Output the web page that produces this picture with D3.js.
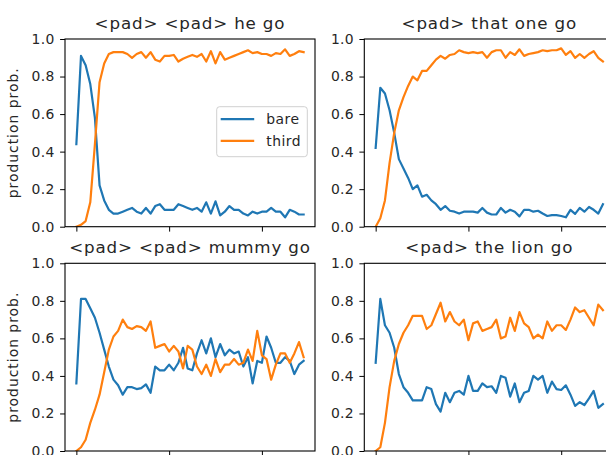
<!DOCTYPE html>
<html>
<head>
<meta charset="utf-8">
<script src="https://cdn.jsdelivr.net/npm/d3@7"></script>
<style>
  body { margin: 0; background: #fff; }
  text { font-family: "DejaVu Sans", sans-serif; fill: #262626; }
</style>
</head>
<body>
<div id="chart"></div>
<script>
// panel titles
var titles = ["<pad> <pad> he go", "<pad> that one go", "<pad> <pad> mummy go", "<pad> the lion go"];
var seriesNames = ["bare", "third"];
var yTicks = [0, 0.2, 0.4, 0.6, 0.8, 1.0];
var xTicks = [0, 20, 40];

// production probabilities, 50 checkpoints per panel
var heGoBare = [0.44, 0.91, 0.86, 0.76, 0.58, 0.22, 0.14, 0.09, 0.07, 0.07,
  0.08, 0.09, 0.10, 0.08, 0.07, 0.10, 0.07, 0.11, 0.12, 0.09,
  0.09, 0.09, 0.12, 0.11, 0.10, 0.09, 0.10, 0.08, 0.13, 0.07,
  0.135, 0.06, 0.08, 0.11, 0.09, 0.09, 0.07, 0.06, 0.08, 0.07,
  0.08, 0.08, 0.10, 0.08, 0.08, 0.05, 0.09, 0.08, 0.065, 0.065];
var heGoThird = [0.00, 0.01, 0.03, 0.13, 0.44, 0.77, 0.87, 0.92, 0.93, 0.93,
  0.93, 0.92, 0.90, 0.92, 0.93, 0.90, 0.93, 0.89, 0.88, 0.91,
  0.91, 0.915, 0.88, 0.895, 0.905, 0.915, 0.905, 0.92, 0.88, 0.935,
  0.87, 0.93, 0.89, 0.90, 0.91, 0.92, 0.93, 0.94, 0.925, 0.93,
  0.92, 0.92, 0.91, 0.925, 0.92, 0.945, 0.91, 0.92, 0.935, 0.93];
var thatOneBare = [0.42, 0.74, 0.71, 0.62, 0.50, 0.36, 0.31, 0.26, 0.20, 0.22,
  0.16, 0.17, 0.14, 0.12, 0.09, 0.11, 0.085, 0.08, 0.07, 0.08,
  0.08, 0.08, 0.075, 0.10, 0.075, 0.065, 0.065, 0.10, 0.075, 0.09,
  0.08, 0.055, 0.09, 0.09, 0.08, 0.085, 0.07, 0.057, 0.062, 0.062,
  0.057, 0.05, 0.09, 0.068, 0.10, 0.08, 0.105, 0.09, 0.07, 0.12];
var thatOneThird = [0.00, 0.045, 0.14, 0.34, 0.50, 0.62, 0.69, 0.75, 0.80, 0.78,
  0.83, 0.83, 0.86, 0.89, 0.91, 0.895, 0.915, 0.92, 0.94, 0.93,
  0.925, 0.93, 0.925, 0.93, 0.90, 0.93, 0.94, 0.94, 0.90, 0.93,
  0.915, 0.945, 0.91, 0.92, 0.925, 0.93, 0.94, 0.935, 0.94, 0.94,
  0.95, 0.915, 0.935, 0.90, 0.92, 0.90, 0.92, 0.935, 0.90, 0.88];
var mummyBare = [0.36, 0.81, 0.81, 0.76, 0.71, 0.63, 0.54, 0.45, 0.38, 0.35,
  0.30, 0.34, 0.34, 0.33, 0.335, 0.355, 0.31, 0.45, 0.43, 0.43,
  0.46, 0.43, 0.47, 0.55, 0.44, 0.43, 0.52, 0.59, 0.52, 0.60,
  0.50, 0.57, 0.51, 0.54, 0.52, 0.53, 0.45, 0.50, 0.36, 0.48,
  0.47, 0.61, 0.55, 0.47, 0.47, 0.50, 0.48, 0.41, 0.46, 0.48];
var mummyThird = [0.00, 0.02, 0.06, 0.15, 0.22, 0.30, 0.42, 0.54, 0.61, 0.64,
  0.70, 0.66, 0.65, 0.665, 0.66, 0.64, 0.69, 0.55, 0.56, 0.57,
  0.53, 0.56, 0.53, 0.44, 0.56, 0.54, 0.45, 0.41, 0.46, 0.40,
  0.49, 0.42, 0.46, 0.46, 0.49, 0.46, 0.47, 0.54, 0.48, 0.64,
  0.51, 0.49, 0.38, 0.46, 0.52, 0.52, 0.47, 0.52, 0.58, 0.50];
var lionBare = [0.47, 0.81, 0.67, 0.63, 0.55, 0.41, 0.34, 0.31, 0.27, 0.27,
  0.27, 0.34, 0.33, 0.25, 0.21, 0.31, 0.26, 0.31, 0.32, 0.30,
  0.40, 0.32, 0.32, 0.36, 0.34, 0.345, 0.31, 0.40, 0.39, 0.29,
  0.36, 0.26, 0.31, 0.32, 0.40, 0.38, 0.40, 0.31, 0.37, 0.33,
  0.325, 0.35, 0.30, 0.24, 0.26, 0.245, 0.28, 0.32, 0.23, 0.25];
var lionThird = [0.00, 0.02, 0.15, 0.34, 0.48, 0.57, 0.63, 0.67, 0.72, 0.72,
  0.72, 0.65, 0.67, 0.73, 0.79, 0.69, 0.74, 0.69, 0.67, 0.70,
  0.59, 0.68, 0.69, 0.64, 0.65, 0.66, 0.70, 0.60, 0.61, 0.71,
  0.64, 0.74, 0.68, 0.66, 0.60, 0.62, 0.60, 0.69, 0.64, 0.67,
  0.67, 0.645, 0.70, 0.765, 0.74, 0.75, 0.71, 0.67, 0.78, 0.75];

var panelBare = [heGoBare, thatOneBare, mummyBare, lionBare];
var panelThird = [heGoThird, thatOneThird, mummyThird, lionThird];

var width = 606,
    height = 455,
    axW = 250,
    axH = 187.7,
    colors = ["#1f77b4", "#ff7f0e"];

var origins = [[65, 39], [364.3, 39], [65, 263.3], [364.3, 263.3]];

var svg = d3.select("#chart")
    .append("svg")
    .attr("width", width)
    .attr("height", height)
    .style("display", "block");

svg.append("rect").attr("width", width).attr("height", height).attr("fill", "#fff");

var n = heGoBare.length;
var pad = (n - 1) * 0.05;

var x = d3.scaleLinear().domain([-pad, n - 1 + pad]).range([0, axW]);
var y = d3.scaleLinear().domain([0, 1]).range([axH, 0]);

var line = d3.line()
    .x(function(d, i) { return x(i); })
    .y(function(d) { return y(d); });

titles.forEach(function(title, p) {
    var g = svg.append("g")
        .attr("transform", "translate(" + origins[p][0] + "," + origins[p][1] + ")");

    g.append("defs").append("clipPath")
        .attr("id", "clip" + p)
        .append("rect").attr("width", axW).attr("height", axH);

    /* lines */
    [panelBare[p], panelThird[p]].forEach(function(vals, s) {
        g.append("path")
            .datum(vals)
            .attr("clip-path", "url(#clip" + p + ")")
            .attr("fill", "none")
            .attr("stroke", colors[s])
            .attr("stroke-width", 2.2)
            .attr("stroke-linejoin", "round")
            .attr("stroke-linecap", "square")
            .attr("d", line);
    });

    /* axes */
    var yAxis = g.append("g")
        .call(d3.axisLeft(y).tickValues(yTicks).tickFormat(d3.format(".1f")).tickSize(4.9).tickPadding(5.5));
    yAxis.select(".domain").remove();
    yAxis.selectAll("line").attr("stroke", "#000").attr("stroke-width", 1);
    yAxis.selectAll("text")
        .attr("font-size", "13.9px")
        .attr("font-family", "DejaVu Sans")
        .attr("fill", "#262626")
        .attr("letter-spacing", "0.3px");

    var xAxis = g.append("g")
        .attr("transform", "translate(0," + axH + ")")
        .call(d3.axisBottom(x).tickValues(xTicks).tickFormat("").tickSize(4.9));
    xAxis.select(".domain").remove();
    xAxis.selectAll("line").attr("stroke", "#000").attr("stroke-width", 1);

    g.append("rect")
        .attr("width", axW)
        .attr("height", axH)
        .attr("fill", "none")
        .attr("stroke", "#000")
        .attr("stroke-width", 1.1);

    g.append("text")
        .attr("x", axW / 2)
        .attr("y", -10)
        .attr("text-anchor", "middle")
        .attr("font-size", "16.7px")
        .attr("letter-spacing", "0.85px")
        .text(title);

    if (p % 2 == 0) {
        g.append("text")
            .attr("transform", "translate(-47," + (axH / 2) + ") rotate(-90)")
            .attr("text-anchor", "middle")
            .attr("font-size", "13.9px")
            .attr("letter-spacing", "1px")
            .text("production prob.");
    }

    /* legend only in first panel */
    if (p == 0) {
        var lg = g.append("g").attr("transform", "translate(151.7,67.7)");
        lg.append("rect")
            .attr("width", 90.6)
            .attr("height", 50)
            .attr("rx", 3)
            .attr("fill", "#fff")
            .attr("fill-opacity", 0.8)
            .attr("stroke", "#d0d0d0")
            .attr("stroke-width", 1);
        seriesNames.forEach(function(name, s) {
            lg.append("line")
                .attr("x1", 4).attr("x2", 37.5)
                .attr("y1", 12.5 + s * 21.7).attr("y2", 12.5 + s * 21.7)
                .attr("stroke", colors[s])
                .attr("stroke-width", 2.2);
            lg.append("text")
                .attr("x", 49.5)
                .attr("y", 17.3 + s * 21.7)
                .attr("font-size", "13.9px")
                .attr("letter-spacing", "0.5px")
                .text(name);
        });
    }
});
</script>
</body>
</html>
